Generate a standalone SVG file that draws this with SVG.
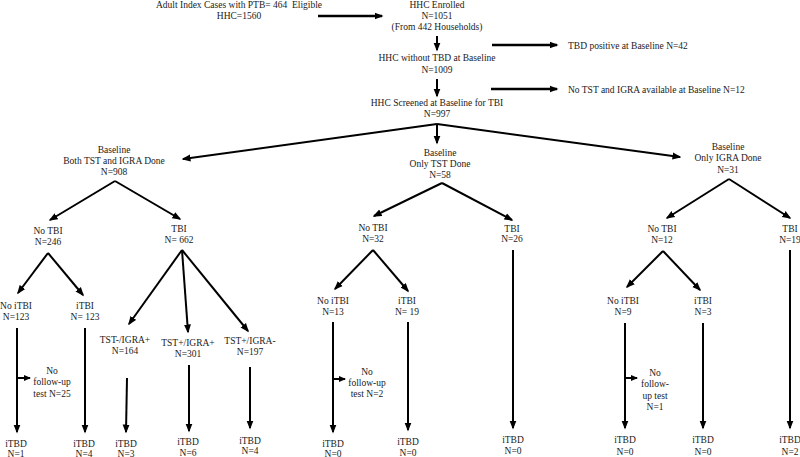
<svg xmlns="http://www.w3.org/2000/svg" width="800" height="457" viewBox="0 0 800 457">
<defs>
<style>
text{font-family:"Liberation Serif","Times New Roman",serif;font-size:9.5px;fill:#1a1a1a;text-anchor:middle;white-space:pre}
text.l{text-anchor:start}
.c line{stroke:#000;stroke-width:2;marker-end:url(#ah)}
.c line.s{stroke-width:2;marker-end:url(#sh)}
.c line.t{stroke-width:2.5}
</style>
<marker id="ah" markerUnits="userSpaceOnUse" markerWidth="9" markerHeight="8" viewBox="0 0 9 8" refX="7.5" refY="4" orient="auto"><path d="M0,0.5 L9,4 L0,7.5 z" fill="#000"/></marker>
<marker id="sh" markerUnits="userSpaceOnUse" markerWidth="7" markerHeight="6" viewBox="0 0 7 6" refX="6" refY="3" orient="auto"><path d="M0,0 L7,3 L0,6 z" fill="#000"/></marker>
</defs>
<rect width="800" height="457" fill="#fff"/>
<g id="n_index"><text x="239" y="8">Adult Index Cases with PTB= 464  Eligible</text><text x="239" y="19">HHC=1560</text></g>
<g id="n_enrolled"><text x="437" y="8">HHC Enrolled</text><text x="437" y="19">N=1051</text><text x="437" y="30">(From 442 Households)</text></g>
<g id="n_tbdpos"><text class="l" x="568" y="48.5">TBD positive at Baseline N=42</text></g>
<g id="n_without"><text x="437" y="61">HHC without TBD at Baseline</text><text x="437" y="72.5">N=1009</text></g>
<g id="n_notst"><text class="l" x="568" y="93">No TST and IGRA available at Baseline N=12</text></g>
<g id="n_screened"><text x="437" y="105.5">HHC Screened at Baseline for TBI</text><text x="437" y="117">N=997</text></g>
<g id="n_both"><text x="114" y="152.5">Baseline</text><text x="114" y="163.5">Both TST and IGRA Done</text><text x="114" y="174.5">N=908</text></g>
<g id="n_onlytst"><text x="440" y="155.5">Baseline</text><text x="440" y="166.5">Only TST Done</text><text x="440" y="177.5">N=58</text></g>
<g id="n_onlyigra"><text x="728" y="149.5">Baseline</text><text x="728" y="161">Only IGRA Done</text><text x="728" y="172.5">N=31</text></g>
<g id="n_notbi1"><text x="48" y="233.5">No TBI</text><text x="48" y="244.5">N=246</text></g>
<g id="n_tbi1"><text x="179" y="231.5">TBI</text><text x="179" y="242.5">N= 662</text></g>
<g id="n_notbi2"><text x="373" y="231">No TBI</text><text x="373" y="242">N=32</text></g>
<g id="n_tbi2"><text x="512" y="231.5">TBI</text><text x="512" y="242">N=26</text></g>
<g id="n_notbi3"><text x="662" y="231.5">No TBI</text><text x="662" y="242.5">N=12</text></g>
<g id="n_tbi3"><text x="790" y="231.5">TBI</text><text x="790" y="242.5">N=19</text></g>
<g id="n_noitbi1"><text x="16" y="308.5">No iTBI</text><text x="16" y="319.5">N=123</text></g>
<g id="n_itbi1"><text x="85" y="308.5">iTBI</text><text x="85" y="319.5">N= 123</text></g>
<g id="n_tstneg"><text x="125" y="343">TST-/IGRA+</text><text x="125" y="353.5">N=164</text></g>
<g id="n_tstpos"><text x="188" y="346">TST+/IGRA+</text><text x="188" y="357">N=301</text></g>
<g id="n_igraneg"><text x="250" y="344">TST+/IGRA-</text><text x="250" y="355">N=197</text></g>
<g id="n_nofu1"><text x="52" y="373.5">No</text><text x="52" y="385">follow-up</text><text x="52" y="396.5">test N=25</text></g>
<g id="n_noitbi2"><text x="333" y="303.5">No iTBI</text><text x="333" y="315">N=13</text></g>
<g id="n_itbi2"><text x="407" y="303.5">iTBI</text><text x="407" y="315">N= 19</text></g>
<g id="n_nofu2"><text x="367" y="374.5">No</text><text x="367" y="386">follow-up</text><text x="367" y="397">test N=2</text></g>
<g id="n_noitbi3"><text x="623" y="303.5">No iTBI</text><text x="623" y="315">N=9</text></g>
<g id="n_itbi3"><text x="703" y="303.5">iTBI</text><text x="703" y="315">N=3</text></g>
<g id="n_nofu3"><text x="655" y="375.5">No</text><text x="655" y="387">follow-</text><text x="655" y="398.5">up test</text><text x="655" y="410">N=1</text></g>
<g id="n_itbd1"><text x="16" y="446.5">iTBD</text><text x="16" y="456.5">N=1</text></g>
<g id="n_itbd2"><text x="84" y="446.5">iTBD</text><text x="84" y="456.5">N=4</text></g>
<g id="n_itbd3"><text x="126" y="446.5">iTBD</text><text x="126" y="456.5">N=3</text></g>
<g id="n_itbd4"><text x="188" y="445">iTBD</text><text x="188" y="455.5">N=6</text></g>
<g id="n_itbd5"><text x="250" y="443.5">iTBD</text><text x="250" y="454">N=4</text></g>
<g id="n_itbd6"><text x="333" y="446.5">iTBD</text><text x="333" y="456.5">N=0</text></g>
<g id="n_itbd7"><text x="408" y="445">iTBD</text><text x="408" y="455.5">N=0</text></g>
<g id="n_itbd8"><text x="513" y="442.5">iTBD</text><text x="513" y="454">N=0</text></g>
<g id="n_itbd9"><text x="625" y="443">iTBD</text><text x="625" y="454.5">N=0</text></g>
<g id="n_itbd10"><text x="703" y="443">iTBD</text><text x="703" y="454.5">N=0</text></g>
<g id="n_itbd11"><text x="790" y="443">iTBD</text><text x="790" y="454.5">N=2</text></g>
<g id="connectors" class="c">
<line class="t" x1="318" y1="16" x2="382" y2="16"/>
<line x1="437" y1="36" x2="437" y2="50"/>
<line class="t" x1="492" y1="45" x2="557" y2="45"/>
<line x1="437" y1="79" x2="437" y2="96"/>
<line class="t" x1="491" y1="89" x2="557" y2="89"/>
<line x1="437" y1="124" x2="183" y2="159"/>
<line x1="437" y1="124" x2="437" y2="143"/>
<line x1="437" y1="124" x2="680" y2="157"/>
<line x1="115" y1="181" x2="50" y2="220"/>
<line x1="115" y1="181" x2="180" y2="219"/>
<line x1="442" y1="183" x2="374" y2="216"/>
<line x1="442" y1="183" x2="512" y2="220"/>
<line x1="729" y1="179" x2="667" y2="218"/>
<line x1="729" y1="179" x2="790" y2="218"/>
<line x1="48" y1="253" x2="18" y2="293"/>
<line x1="48" y1="253" x2="83" y2="295"/>
<line x1="182" y1="250" x2="129" y2="324"/>
<line x1="182" y1="250" x2="188" y2="332"/>
<line x1="182" y1="250" x2="248" y2="331"/>
<line x1="17" y1="328" x2="17" y2="432"/>
<line class="s" x1="17" y1="378" x2="30" y2="378"/>
<line x1="85" y1="328" x2="85" y2="432"/>
<line x1="127" y1="378" x2="126" y2="432"/>
<line x1="189" y1="365" x2="189" y2="431"/>
<line x1="250" y1="367" x2="250" y2="428"/>
<line x1="373" y1="250" x2="335" y2="289"/>
<line x1="373" y1="250" x2="408" y2="291"/>
<line x1="333" y1="322" x2="333" y2="432"/>
<line class="s" x1="333" y1="379" x2="345" y2="379"/>
<line x1="408" y1="322" x2="408" y2="430"/>
<line x1="513" y1="250" x2="513" y2="428"/>
<line x1="663" y1="251" x2="627" y2="287"/>
<line x1="663" y1="251" x2="700" y2="290"/>
<line x1="625" y1="323" x2="625" y2="428"/>
<line class="s" x1="625" y1="378" x2="637" y2="378"/>
<line x1="703" y1="323" x2="703" y2="428"/>
<line x1="790" y1="250" x2="790" y2="428"/>
</g>
</svg>
